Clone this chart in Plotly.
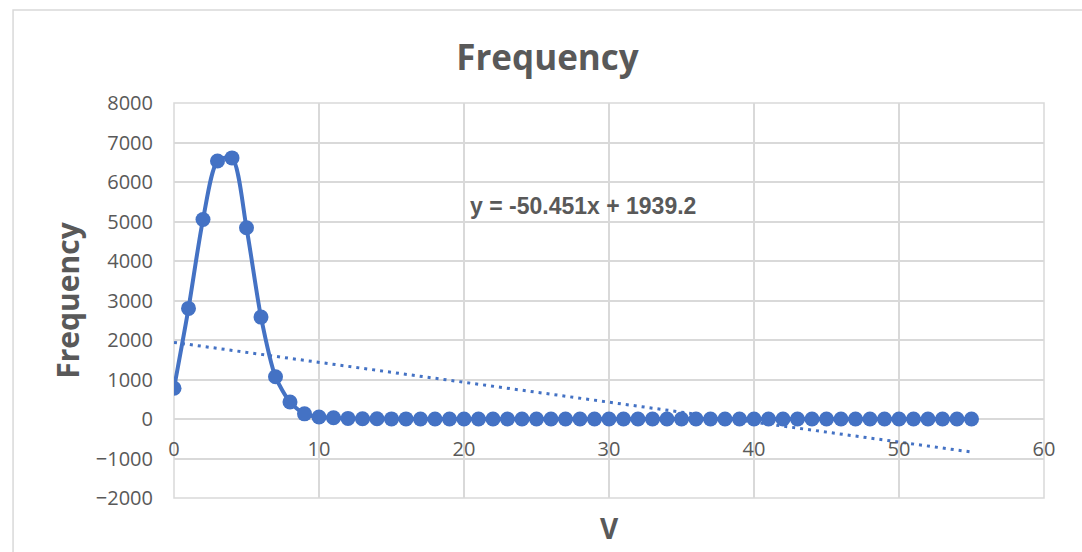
import plotly.graph_objects as go

# Measured frequency per V bin (0..55)
v_values = list(range(56))
frequency = [780, 2800, 5050, 6530, 6610, 4840, 2580, 1070, 430, 130,
             50, 30, 15, 8, 5, 3, 2, 1, 1] + [0] * 37

# Linear trendline coefficients (shown on the chart)
trend_slope = -50.451
trend_intercept = 1939.2
trend_x = [0, 55]
trend_y = [trend_slope * x + trend_intercept for x in trend_x]

y_ticks = list(range(-2000, 8001, 1000))
x_ticks = list(range(0, 61, 10))

blue = "#4472C4"
grey_text = "#595959"
grid = "#D9D9D9"
font_family = "Open Sans, Lato, sans-serif"

fig = go.Figure()

fig.add_trace(go.Scatter(
    x=trend_x, y=trend_y, mode="lines",
    line=dict(color=blue, width=3, dash="3px,5px"),
    hoverinfo="skip", showlegend=False,
))

fig.add_trace(go.Scatter(
    x=v_values, y=frequency, mode="lines+markers",
    line=dict(color=blue, width=4, shape="spline", smoothing=0.75),
    marker=dict(color=blue, size=15),
    showlegend=False,
))

fig.add_annotation(
    x=20.3, y=5390, xref="x", yref="y", xanchor="left",
    text=f"<b>y = {trend_slope}x + {trend_intercept}</b>",
    showarrow=False, font=dict(size=23, color=grey_text, family="Liberation Sans, Arial, sans-serif"),
)

# Axis title placed under the plot area (x axis crosses at y = 0)
fig.add_annotation(
    x=0.5, y=-0.076, xref="paper", yref="paper", yanchor="middle",
    text="<b>V</b>", showarrow=False,
    font=dict(size=28, color=grey_text, family=font_family),
)

# Plot-area edge gridlines
fig.add_shape(
    type="rect", xref="paper", yref="paper", x0=0, y0=0, x1=1, y1=1,
    line=dict(color=grid, width=1.5), fillcolor="rgba(0,0,0,0)", layer="below",
)

# Outer chart frame
fig.add_shape(
    type="rect", xref="paper", yref="paper",
    x0=-0.185, y0=-0.3, x1=1.08, y1=1.2354,
    line=dict(color=grid, width=1.5), fillcolor="rgba(0,0,0,0)", layer="below",
)

fig.update_layout(
    width=1082, height=552,
    margin=dict(l=174, r=38, t=103, b=54),
    paper_bgcolor="white", plot_bgcolor="white",
    title=dict(
        text="<b>Frequency</b>", x=0.506, xanchor="center", y=0.895, yanchor="middle",
        font=dict(size=35, color=grey_text, family=font_family),
    ),
    xaxis=dict(
        range=[0, 60], tickvals=x_ticks, showgrid=True, gridcolor=grid, gridwidth=1.5,
        zeroline=False, showline=False, anchor="free", position=0.2,
        ticks="", ticklabelstandoff=16,
        tickfont=dict(size=20, color=grey_text, family=font_family),
    ),
    yaxis=dict(
        range=[-2000, 8000], tickvals=y_ticks, showgrid=True, gridcolor=grid, gridwidth=1.5,
        zeroline=False, showline=False, ticks="", ticklabelstandoff=20,
        tickfont=dict(size=20, color=grey_text, family=font_family),
        title=dict(text="<b>Frequency</b>", standoff=7,
                   font=dict(size=30, color=grey_text, family=font_family)),
    ),
)

fig.write_html("out.html")
